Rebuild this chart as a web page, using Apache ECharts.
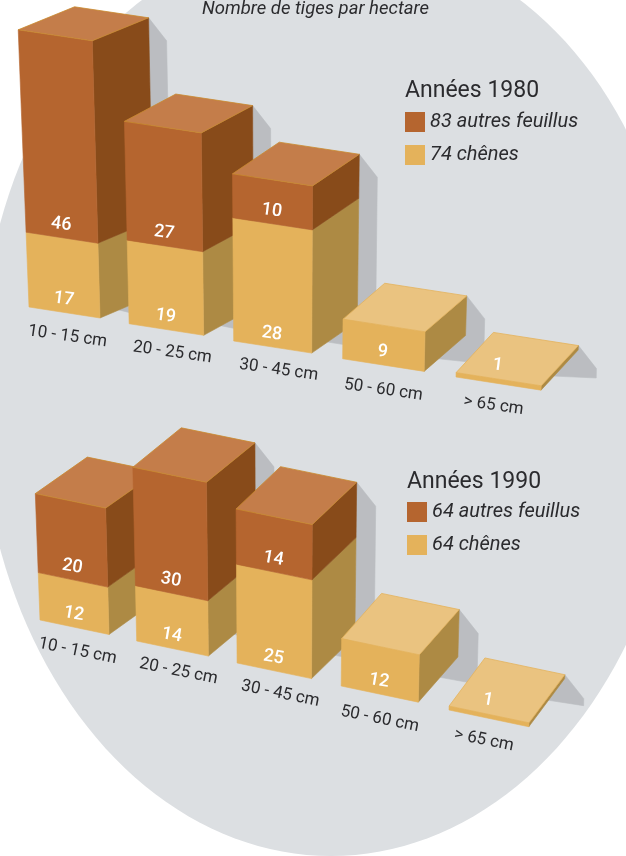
<!DOCTYPE html>
<html><head><meta charset="utf-8">
<style>html,body{margin:0;padding:0;background:#fff}#c{width:626px;height:856px}</style>
<script src="https://cdn.jsdelivr.net/npm/echarts@6/dist/echarts.min.js"></script>
</head><body><div id="c"></div>
<script>
const categories = ['10 - 15 cm', '20 - 25 cm', '30 - 45 cm', '50 - 60 cm', '> 65 cm'];
const chenes1980 = [17, 19, 28, 9, 1];
const feuillus1980 = [46, 27, 10, 0, 0];
const chenes1990 = [12, 14, 25, 12, 1];
const feuillus1990 = [20, 30, 14, 0, 0];

const FONT = 'Roboto';
const COL = {
  feuillus: { front: '#B5652F', side: '#884B1A', top: '#C47D4A', edge: '#C98A2E' },
  chenes: { front: '#E4B25B', side: '#AD8A44', top: '#EAC380', edge: '#E4B25B' },
  shadow: '#BBBDC1', bg: '#DCDFE2', text: '#2B2B2E'
};
// Oblique projection parameters of each panel
const PANELS = [
  { w0: 71, dw: 3.5, slope: 0.155, dx0: 54, ddx: -4.2, dy0: -23, ddy: -4.3, bendX: 2.2, skew: 17.5, bendY: 0.25,
    sh: [18, 23, 18, 28], shEnd: 0.35, rot: 0.125, catRot: 0.14 },
  { w0: 69, dw: 2.7, slope: 0.21, dx0: 51, ddx: -3.8, dy0: -36.5, ddy: -2.9, bendX: 1.85, skew: 22.5, bendY: 0.5,
    sh: [19, 24, 19, 27], shEnd: 0.55, rot: 0.17, catRot: 0.2 }
];
const catDx = [3, 6, 6, 0, -5];
const catDy = [24, 23, 23, 25, 22];
const valueLift = [13, 13, 13, 13, 18];

function projector(p, api) {
  return function (i, u, v, h) {
    const o = api.coord([i, 0]);
    const b = i * (4 - i);
    const bx = o[0] - p.bendX * b;
    const by = o[1] + p.skew * i - p.bendY * b;
    const W = p.w0 + p.dw * i, Dx = p.dx0 + p.ddx * i, Dy = p.dy0 + p.ddy * i;
    const gx = bx + u * W + v * Dx;
    const gy = by + u * W * p.slope + v * Dy;
    const hp = o[1] - api.coord([i, h])[1];
    return [gx + 0.000155 * (gx - 280) * hp, gy - hp];
  };
}
function poly(points, color, z2, edge) {
  return { type: 'polygon', shape: { points }, z2,
    style: { fill: color, stroke: edge || color, lineWidth: edge ? 0.8 : 0.6 } };
}
function txt(text, pos, size, weight, fill, rot, z2) {
  return { type: 'text', x: pos[0], y: pos[1], rotation: -rot, z2, silent: true,
    style: { text, x: 0, y: 0, fontFamily: FONT, fontSize: size, fontWeight: weight, fill,
      align: 'center', verticalAlign: 'middle' } };
}
function segmentSeries(name, panelIdx, values, bases, col, isTopFn, withCat) {
  const p = PANELS[panelIdx];
  return {
    type: 'custom', name, xAxisIndex: panelIdx, yAxisIndex: panelIdx,
    coordinateSystem: 'cartesian2d', itemStyle: { color: col.front }, silent: true,
    encode: { x: 0, y: [1, 2] },
    data: values.map((v, i) => [i, bases[i], bases[i] + v]),
    renderItem(params, api) {
      const i = api.value(0), h0 = api.value(1), h1 = api.value(2);
      if (h1 <= h0) return null;
      const P = projector(p, api);
      const z = 10 + i * 10 + (withCat ? 0 : 1);
      const ch = [
        poly([P(i, 1, 0, h0), P(i, 1, 1, h0), P(i, 1, 1, h1), P(i, 1, 0, h1)], col.side, z),
        poly([P(i, 0, 0, h0), P(i, 1, 0, h0), P(i, 1, 0, h1), P(i, 0, 0, h1)], col.front, z)
      ];
      if (isTopFn(i)) ch.push(poly([P(i, 0, 0, h1), P(i, 1, 0, h1), P(i, 1, 1, h1), P(i, 0, 1, h1)], col.top, z, col.edge));
      const lb = P(i, 0.49, 0, h0);
      ch.push(txt(String(h1 - h0), [lb[0], lb[1] - valueLift[i]], 18, 500, '#fff', p.rot, 100));
      if (withCat) {
        const b = P(i, 0.5, 0, 0);
        ch.push(txt(categories[i], [b[0] + catDx[i], b[1] + catDy[i]], 17, 400, COL.text, p.catRot, 100));
      }
      return { type: 'group', children: ch };
    }
  };
}
function shadowSeries(panelIdx, totals) {
  const p = PANELS[panelIdx];
  return {
    type: 'custom', name: 'ombre' + panelIdx, xAxisIndex: panelIdx, yAxisIndex: panelIdx, silent: true,
    coordinateSystem: 'cartesian2d', encode: { x: 0, y: 1 },
    data: totals.map((v, i) => [i, v]),
    renderItem(params, api) {
      const i = api.value(0), h = api.value(1);
      const P = projector(p, api);
      const t = P(i, 1, 1, h), bb = P(i, 1, 1, 0);
      const e = P(i, 1, p.shEnd, 0);
      return poly([t, [t[0] + p.sh[0], t[1] + p.sh[1]], [bb[0] + p.sh[2], bb[1] + p.sh[3]], e, bb], COL.shadow, 1);
    }
  };
}
const sum = (a, b) => a.map((v, i) => v + b[i]);
const zero = categories.map(() => 0);
const axisX = g => ({ type: 'category', gridIndex: g, data: categories, boundaryGap: false, show: false });
const axisY = g => ({ type: 'value', gridIndex: g, min: 0, max: 60, interval: 10, show: false });
const legendText = { fontFamily: FONT, fontStyle: 'italic', fontSize: 20, color: COL.text };

// Backdrop: an egg outline, slightly fuller in its upper half
function backdrop() {
  const pts = [], cx = 331, cy = 395, rx = 351, ry = 461;
  for (let a = 0; a < 360; a += 2) {
    const r = a * Math.PI / 180, t = Math.sin(r), up = t < 0;
    const half = Math.sqrt(Math.max(0, 1 - Math.pow(Math.abs(t), up ? 2.22 : 2)));
    pts.push([cx + rx * half * Math.sign(Math.cos(r) || 1), cy + ry * t]);
  }
  return pts;
}

const chart = echarts.init(document.getElementById('c'), null, { renderer: 'canvas' });
chart.setOption({
  animation: false,
  backgroundColor: '#fff',
  title: [
    { text: 'Nombre de tiges par hectare', left: 202, top: 0, padding: 0,
      textStyle: { fontFamily: FONT, fontStyle: 'italic', fontWeight: 400, fontSize: 18.5, color: COL.text } },
    { text: 'Années 1980', left: 405, top: 80, padding: 0,
      textStyle: { fontFamily: FONT, fontWeight: 400, fontSize: 23, color: COL.text } },
    { text: 'Années 1990', left: 407, top: 471, padding: 0,
      textStyle: { fontFamily: FONT, fontWeight: 400, fontSize: 23, color: COL.text } }
  ],
  legend: [
    { left: 405, top: 112, orient: 'vertical', itemWidth: 20, itemHeight: 20, itemGap: 13, padding: 0, icon: 'rect',
      selectedMode: false, textStyle: legendText, data: ['83 autres feuillus', '74 chênes'] },
    { left: 407, top: 502, orient: 'vertical', itemWidth: 20, itemHeight: 20, itemGap: 13, padding: 0, icon: 'rect',
      selectedMode: false, textStyle: legendText, data: ['64 autres feuillus', '64 chênes'] }
  ],
  grid: [
    { left: 29, width: 427, top: 43, height: 264 },
    { left: 40, width: 409, top: 383, height: 237 }
  ],
  xAxis: [axisX(0), axisX(1)],
  yAxis: [axisY(0), axisY(1)],
  graphic: [{ type: 'polygon', z: -10, silent: true, shape: { points: backdrop() }, style: { fill: COL.bg } }],
  series: [
    shadowSeries(0, sum(chenes1980, feuillus1980)),
    segmentSeries('74 chênes', 0, chenes1980, zero, COL.chenes, i => feuillus1980[i] === 0, true),
    segmentSeries('83 autres feuillus', 0, feuillus1980, chenes1980, COL.feuillus, () => true, false),
    shadowSeries(1, sum(chenes1990, feuillus1990)),
    segmentSeries('64 chênes', 1, chenes1990, zero, COL.chenes, i => feuillus1990[i] === 0, true),
    segmentSeries('64 autres feuillus', 1, feuillus1990, chenes1990, COL.feuillus, () => true, false)
  ]
});
</script></body></html>
